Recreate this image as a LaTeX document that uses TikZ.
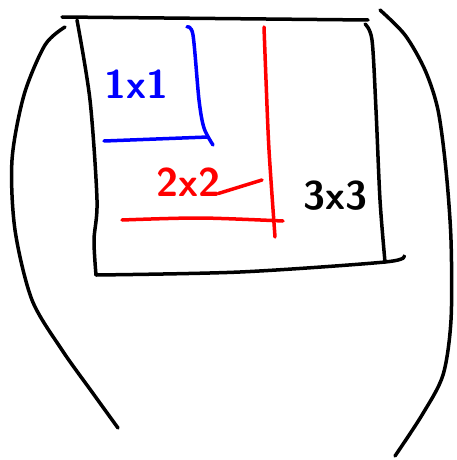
\documentclass[tikz,border=0pt]{standalone}
\usepackage{fontspec}
\usepackage{tikz}
\usetikzlibrary{calc}
\definecolor{stift}{HTML}{000000}
\definecolor{klein}{HTML}{0000FF}
\definecolor{mittel}{HTML}{FF0000}

\begin{document}
\begin{tikzpicture}[x=1pt, y=-1pt,
    strich/.style={line width=3.5pt, line cap=round, line join=round},
    schrift/.style={font=\sffamily\bfseries\fontsize{40}{40}\selectfont, inner sep=0pt}]
      \useasboundingbox (0,0) rectangle (456,460);

      % Rahmen
      \draw[strich, stift] (62,17) -- (368,20);
      \draw[strich, stift] plot[smooth] coordinates {(77,20) (90,100) (97,200) (94,240) (96,275)};
      \draw[strich, stift] plot[smooth] coordinates {(96,275) (240,272) (385,262) (404,256)};
      \draw[strich, stift] plot[smooth] coordinates {(365,24) (372,40) (376,110) (380,200) (385,262)};

      % Klammern
      \draw[strich, stift] plot[smooth] coordinates {(65,27) (45,45) (24,95) (12,160) (15,230)
        (32,300) (62,350) (92,392) (118,428)};
      \draw[strich, stift] plot[smooth] coordinates {(380,10) (405,35) (425,70) (438,110)
        (446,170) (451,240) (451,320) (443,375) (422,415) (395,456)};

      % 1x1
      \draw[strich, klein] plot[smooth] coordinates {(187,27) (193,35) (199,100) (204,128) (213,145)};
      \draw[strich, klein] (104,141) -- (208,137);
      \node[schrift, klein] (eins) at (136,84) {1x1};

      % 2x2
      \draw[strich, mittel] plot[smooth] coordinates {(264,27) (266,80) (269,150) (275,237)};
      \draw[strich, mittel] plot[smooth] coordinates {(122,220) (200,218) (283,221)};
      \node[schrift, mittel] (zwei) at (188,182) {2x2};
      \coordinate (schwanz) at (262,180);
      \draw[strich, mittel] ($(zwei.south east)+(-2,-3)$) -- (schwanz);

      % 3x3
      \node[schrift, stift] (drei) at (335,196) {3x3};
\end{tikzpicture}
\end{document}
